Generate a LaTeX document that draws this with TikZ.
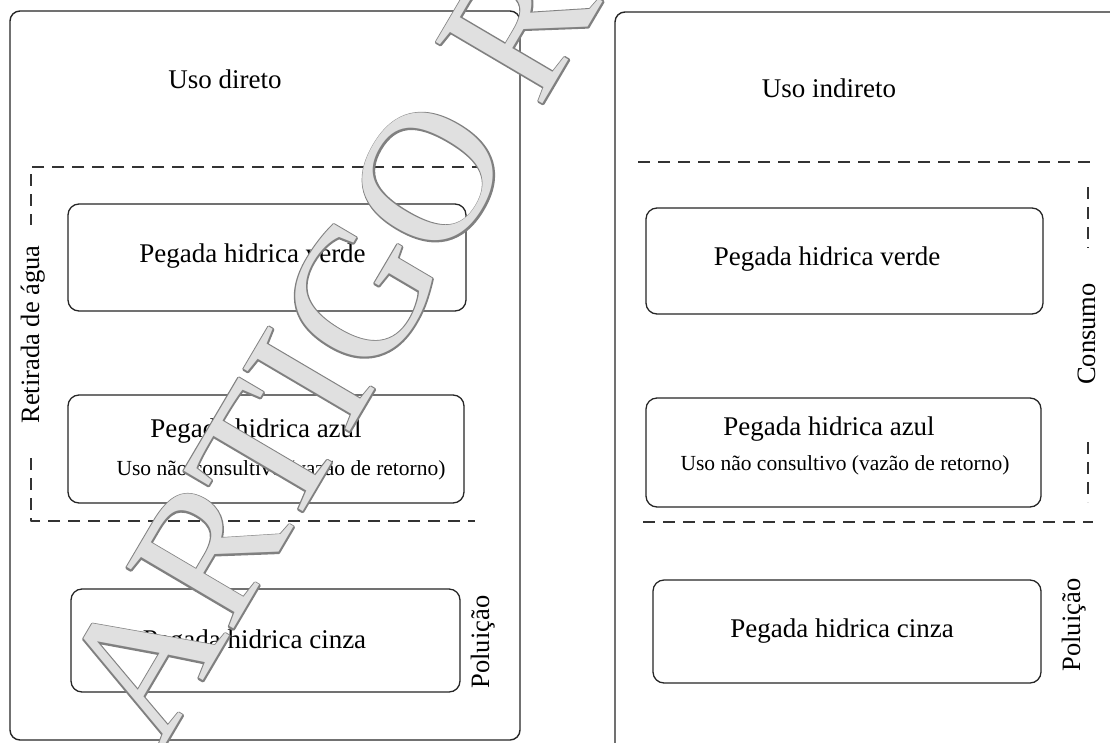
\documentclass[tikz,border=0pt]{standalone}
\usepackage{fontspec}
\setmainfont{Liberation Serif}
\newfontfamily\wmout[FakeBold=1.6]{Liberation Serif}
\newfontfamily\wmface{Liberation Serif}
\begin{document}
\begin{tikzpicture}[x=1pt,y=-1pt,line join=round]
\tikzset{
  outerbox/.style={draw=black!85, line width=1.4pt, rounded corners=10pt, inner sep=0pt},
  card/.style={draw=black!85, line width=1.3pt, rounded corners=11pt, inner sep=0pt},
  lbl/.style={font=\fontsize{27}{32}\selectfont, inner sep=0pt, anchor=base},
  sml/.style={font=\fontsize{21.5}{26}\selectfont, inner sep=0pt, anchor=base},
  side/.style={font=\fontsize{26.5}{30}\selectfont, inner sep=0pt, anchor=base, rotate=90},
  dsh/.style={draw=black!80, line width=1.3pt, dash pattern=on 12pt off 8pt},
  wm/.style={inner sep=0pt, anchor=base west, rotate=59.5},
}
\path[use as bounding box] (0,0) rectangle (1110,742);
\clip (0,0) rectangle (1110,742);
\fill[white] (0,0) rectangle (1110,742);

% outer frames
\node[outerbox, minimum width=510pt, minimum height=729pt] (left) at (265,375.5) {};
\node[outerbox, minimum width=515pt, minimum height=760pt] (right) at (872.5,392) {};

% headings
\node[lbl] (ud) at (225,88) {Uso direto};
\node[lbl] (ui) at (829,97) {Uso indireto};

% left cards
\node[card, minimum width=398pt, minimum height=107pt] (gL) at (267,257.5) {};
\node[lbl] (gLt) at (252.5,262) {Pegada hidrica verde};
\node[card, minimum width=396pt, minimum height=108pt] (bL) at (266,449) {};
\node[lbl] (bLt) at (256,437) {Pegada hidrica azul};
\node[sml] (bLs) at (281,475) {Uso não consultivo (vazão de retorno)};
\node[card, minimum width=389pt, minimum height=103pt] (cL) at (265.5,640.5) {};
\node[lbl] (cLt) at (254.5,648) {Pegada hidrica cinza};

% right cards
\node[card, minimum width=397pt, minimum height=106pt] (gR) at (844.5,261) {};
\node[lbl] (gRt) at (827,265) {Pegada hidrica verde};
\node[card, minimum width=395pt, minimum height=109pt] (bR) at (843.5,452.5) {};
\node[lbl] (bRt) at (829,435) {Pegada hidrica azul};
\node[sml] (bRs) at (845,470) {Uso não consultivo (vazão de retorno)};
\node[card, minimum width=388pt, minimum height=103pt] (cR) at (847,631.5) {};
\node[lbl] (cRt) at (842,637) {Pegada hidrica cinza};

% side labels
\node[side] (ret) at (39,334.5) {Retirada de água};
\node[side] (polL) at (489,642) {Poluição};
\node[side] (cons) at (1095,334) {Consumo};
\node[side] (polR) at (1080,625) {Poluição};

% dashed regions, left
\coordinate (lTL) at (31,167);
\coordinate (lTR) at (484,167);
\coordinate (lA) at (31,225);
\coordinate (lB) at (31,458);
\coordinate (lBL) at (31,521);
\coordinate (lBR) at (475,521);
\draw[dsh] (lTR) -- (lTL) -- (lA);
\draw[dsh] (lB) -- (lBL) -- (lBR);

% dashed regions, right
\coordinate (rTL) at (638,162);
\coordinate (rTR) at (1090,162);
\coordinate (rA) at (1088,187);
\coordinate (rB) at (1088,248);
\coordinate (rC) at (1088,442);
\coordinate (rD) at (1088,502);
\coordinate (rBL) at (643,522);
\coordinate (rBR) at (1093,522);
\draw[dsh] (rTL) -- (rTR);
\draw[dsh] (rA) -- (rB);
\draw[dsh] (rC) -- (rD);
\draw[dsh] (rBL) -- (rBR);

% watermark
\node[wm, font=\wmout\fontsize{188}{188}\selectfont, text=black!50] (wmo) at (161.1,752.1) {ARTIGO R};
\node[wm, font=\wmface\fontsize{188}{188}\selectfont, text=black!12] (wmf) at (161.1,752.1) {ARTIGO R};
\end{tikzpicture}
\end{document}
